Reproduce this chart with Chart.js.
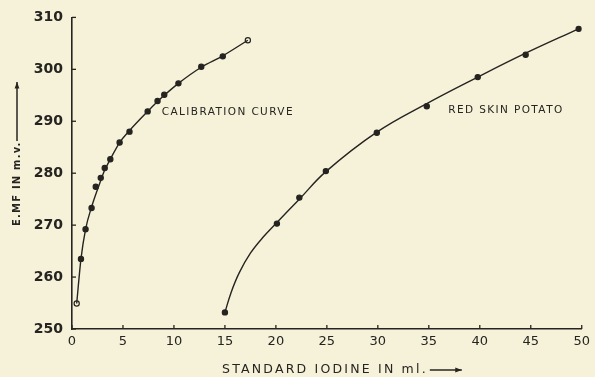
<!DOCTYPE html>
<html>
<head>
<meta charset="utf-8">
<script src="https://cdn.jsdelivr.net/npm/chart.js@4.4.1/dist/chart.umd.min.js"></script>
<style>
  html, body { margin: 0; padding: 0; background: #f6f1d9; }
  #wrap { width: 595px; height: 377px; }
</style>
</head>
<body>
<div id="wrap"><canvas id="emfChart" width="595" height="377"></canvas></div>
<script>
// Calibration readings: standard iodine (ml) vs E.M.F. (mV)
const calibIodine = [0.46, 0.88, 1.33, 1.92, 2.33, 2.82, 3.21, 3.76, 4.67, 5.64, 7.42, 8.39, 9.05, 10.44, 12.68, 14.79, 17.25];
const calibEmf    = [254.9, 263.5, 269.2, 273.3, 277.4, 279.1, 281.0, 282.7, 285.9, 288.0, 291.9, 293.9, 295.1, 297.3, 300.5, 302.5, 305.6];

// Red skin potato readings
const potatoIodine = [15.0, 20.1, 22.3, 24.9, 29.9, 34.8, 39.8, 44.5, 49.7];
const potatoEmf    = [253.2, 270.3, 275.3, 280.4, 287.8, 292.9, 298.5, 302.8, 307.8];

const calibCurveX = [0.46, 0.88, 1.33, 1.92, 2.82, 3.21, 3.76, 4.67, 5.64, 7.42, 8.39, 9.05, 10.44, 12.68, 14.79, 17.25];
const calibCurveY = [254.9, 263.5, 269.2, 273.5, 278.6, 280.6, 282.7, 285.9, 288.2, 291.9, 293.8, 295.0, 297.3, 300.4, 302.6, 305.6];
const potatoCurveX = [15.0, 15.6, 16.4, 17.5, 18.8, 20.1, 22.3, 24.9, 29.9, 34.8, 39.8, 44.5, 49.7];
const potatoCurveY = [253.2, 257.0, 260.8, 264.6, 267.8, 270.5, 275.0, 280.3, 287.9, 293.4, 298.5, 303.1, 307.8];

const xTicks = [0, 5, 10, 15, 20, 25, 30, 35, 40, 45, 50];
const yTicks = [250, 260, 270, 280, 290, 300, 310];

const xTitle = 'STANDARD IODINE IN ml.';
const yTitle = 'E.MF IN m.v.';

const INK = '#262420';
const PAPER = '#f6f1d9';

const toPoints = (xs, ys) => xs.map((x, i) => ({ x: x, y: ys[i] }));

// first and last calibration readings are drawn as open circles
const calibFill = calibIodine.map((_, i) => (i === 0 || i === calibIodine.length - 1) ? PAPER : INK);

function arrow(ctx, x1, y1, x2, y2) {
  const a = Math.atan2(y2 - y1, x2 - x1);
  ctx.beginPath();
  ctx.moveTo(x1, y1);
  ctx.lineTo(x2, y2);
  ctx.stroke();
  ctx.beginPath();
  ctx.moveTo(x2, y2);
  ctx.lineTo(x2 - 7 * Math.cos(a - 0.35), y2 - 7 * Math.sin(a - 0.35));
  ctx.lineTo(x2 - 7 * Math.cos(a + 0.35), y2 - 7 * Math.sin(a + 0.35));
  ctx.closePath();
  ctx.fill();
}

// paper, inward tick marks, axis titles with arrows and the curve labels
const paperPlugin = {
  id: 'paper',
  beforeDraw(chart) {
    const ctx = chart.ctx;
    ctx.save();
    ctx.fillStyle = PAPER;
    ctx.fillRect(0, 0, chart.width, chart.height);
    ctx.restore();
  },
  afterDraw(chart) {
    const ctx = chart.ctx;
    const xs = chart.scales.x, ys = chart.scales.y;
    ctx.save();
    ctx.strokeStyle = INK;
    ctx.fillStyle = INK;
    ctx.lineWidth = 1.3;
    xs.ticks.forEach(t => {
      const px = xs.getPixelForValue(t.value);
      ctx.beginPath();
      ctx.moveTo(px, ys.bottom);
      ctx.lineTo(px, ys.bottom - 4);
      ctx.stroke();
    });
    ys.ticks.forEach(t => {
      const py = ys.getPixelForValue(t.value);
      ctx.beginPath();
      ctx.moveTo(xs.left, py);
      ctx.lineTo(xs.left + 4, py);
      ctx.stroke();
    });

    // x axis title
    ctx.textBaseline = 'middle';
    ctx.font = '12.5px "DejaVu Sans"';
    ctx.letterSpacing = '2.2px';
    ctx.fillText(xTitle, 222, 370);
    const endX = 222 + ctx.measureText(xTitle).width;
    ctx.lineWidth = 1.5;
    arrow(ctx, endX + 2, 370, endX + 34, 370);

    // y axis title, rotated
    ctx.save();
    ctx.translate(17, 226);
    ctx.rotate(-Math.PI / 2);
    ctx.font = 'bold 10px "DejaVu Sans"';
    ctx.letterSpacing = '1.2px';
    ctx.fillText(yTitle, 0, 0);
    ctx.restore();
    arrow(ctx, 17, 141, 17, 82);

    // curve labels
    ctx.font = '10.5px "DejaVu Sans"';
    ctx.letterSpacing = '1.4px';
    ctx.fillText('CALIBRATION CURVE', xs.getPixelForValue(8.8), ys.getPixelForValue(291.8));
    ctx.fillText('RED SKIN POTATO', xs.getPixelForValue(36.9), ys.getPixelForValue(292.1));
    ctx.restore();
  }
};

const curveStyle = {
  borderColor: INK,
  borderWidth: 1.4,
  pointRadius: 0,
  fill: false
};

const pointStyle = {
  showLine: false,
  pointRadius: 2.6,
  pointBorderWidth: 1.2,
  pointBorderColor: INK
};

new Chart(document.getElementById('emfChart'), {
  type: 'line',
  data: {
    datasets: [
      Object.assign({ label: 'Calibration curve line', data: toPoints(calibCurveX, calibCurveY), cubicInterpolationMode: 'monotone' }, curveStyle),
      Object.assign({ label: 'Red skin potato line', data: toPoints(potatoCurveX, potatoCurveY), tension: 0.4 }, curveStyle),
      Object.assign({ label: 'Calibration curve', data: toPoints(calibIodine, calibEmf), pointBackgroundColor: calibFill }, pointStyle),
      Object.assign({ label: 'Red skin potato', data: toPoints(potatoIodine, potatoEmf), pointBackgroundColor: INK }, pointStyle)
    ]
  },
  options: {
    responsive: false,
    animation: false,
    events: [],
    layout: { padding: { left: 0, right: 9, top: 17, bottom: 0 } },
    plugins: {
      legend: { display: false },
      tooltip: { enabled: false }
    },
    scales: {
      x: {
        type: 'linear',
        min: 0,
        max: 50,
        afterBuildTicks: s => { s.ticks = xTicks.map(v => ({ value: v })); },
        afterFit: s => { s.height = 48; },
        grid: { display: false, drawTicks: false },
        border: { display: true, color: INK, width: 1.6 },
        ticks: {
          color: INK,
          padding: 5,
          font: { family: 'DejaVu Sans', size: 13 }
        }
      },
      y: {
        type: 'linear',
        min: 250,
        max: 310,
        afterBuildTicks: s => { s.ticks = yTicks.map(v => ({ value: v })); },
        afterFit: s => { s.width = 72; },
        grid: { display: false, drawTicks: false },
        border: { display: true, color: INK, width: 1.6 },
        ticks: {
          color: INK,
          padding: 9,
          font: { family: 'DejaVu Sans', size: 14, weight: 'bold' }
        }
      }
    }
  },
  plugins: [paperPlugin]
});
</script>
</body>
</html>
